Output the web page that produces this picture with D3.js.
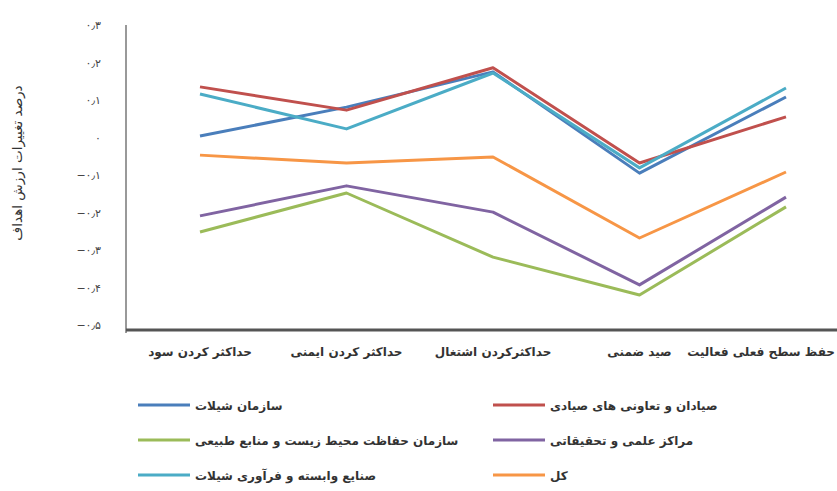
<!DOCTYPE html>
<html><head><meta charset="utf-8">
<script src="https://cdn.jsdelivr.net/npm/d3@7"></script>
<style>body{margin:0;background:#fff}svg{display:block}text{font-family:"DejaVu Sans",sans-serif}</style>
</head><body><svg id="c" width="837" height="491"></svg>
<script>
const categories = ["حداکثر کردن سود","حداکثر کردن ایمنی","حداکثرکردن اشتغال","صید ضمنی","حفظ سطح فعلی فعالیت"];
const seriesNames = ["سازمان شیلات","صیادان و تعاونی های صیادی","سازمان حفاظت محیط زیست و منابع طبیعی","مراکز علمی و تحقیقاتی","صنایع وابسته و فرآوری شیلات","کل"];
const blueVals   = [0.004, 0.081, 0.175, -0.095, 0.108];
const redVals    = [0.135, 0.073, 0.186, -0.068, 0.055];
const greenVals  = [-0.252, -0.148, -0.319, -0.420, -0.185];
const purpleVals = [-0.209, -0.129, -0.199, -0.393, -0.159];
const cyanVals   = [0.116, 0.023, 0.172, -0.081, 0.132];
const orangeVals = [-0.047, -0.068, -0.052, -0.268, -0.092];
const yTicks = [0.3,0.2,0.1,0,-0.1,-0.2,-0.3,-0.4,-0.5];
const yTickLabels = ["۰٫۳","۰٫۲","۰٫۱","۰","−۰٫۱","−۰٫۲","−۰٫۳","−۰٫۴","−۰٫۵"];
const yTitle = "درصد تغییرات ارزش اهداف";

const colors = ["#4a7ebb","#c0504d","#9bbb59","#8064a2","#4bacc6","#f79646"];
const series = [blueVals, redVals, greenVals, purpleVals, cyanVals, orangeVals].map((v,i)=>({name:seriesNames[i], values:v, color:colors[i]}));

const svg = d3.select("#c");
const x = d3.scalePoint().domain(categories).range([200, 786]);
const y = d3.scaleLinear().domain([-0.5, 0.3]).range([325, 25]);

// axes lines
svg.append("line").attr("x1",126).attr("x2",126).attr("y1",25).attr("y2",333).attr("stroke","#777").attr("stroke-width",1.5);
svg.append("line").attr("x1",126).attr("x2",837).attr("y1",330).attr("y2",330).attr("stroke","#555").attr("stroke-width",3);

// y tick labels
const yAxis = d3.axisLeft(y).tickValues(yTicks).tickSize(0).tickPadding(0).tickFormat((d,i)=>yTickLabels[i]);
const ga = svg.append("g").attr("transform","translate(101,0)").call(yAxis);
ga.select(".domain").remove();
ga.selectAll("text").attr("font-size",11).attr("fill","#444").style("font-family","DejaVu Sans");

// x labels
const nCat = categories.length;
svg.append("g").selectAll("text").data(categories).join("text")
  .attr("x",(d,i)=>i===nCat-1?835:x(d)).attr("y",356)
  .attr("text-anchor",(d,i)=>i===nCat-1?"end":"middle")
  .attr("font-size",12).attr("font-weight","bold").attr("fill","#333").text(d=>d);

// y title
svg.append("text").attr("transform","translate(22,163) rotate(-90)").attr("text-anchor","middle")
  .attr("font-size",13.5).attr("fill","#333").text(yTitle);

// lines
const line = d3.line().x((d,i)=>x(categories[i])).y(d=>y(d));
svg.append("g").selectAll("path").data(series).join("path")
  .attr("d",d=>line(d.values)).attr("fill","none").attr("stroke",d=>d.color)
  .attr("stroke-width",3).attr("stroke-linejoin","round");

// legend
const lg = svg.append("g").selectAll("g").data(series).join("g")
  .attr("transform",(d,i)=>`translate(${i%2===0?138:493},${405+Math.floor(i/2)*35})`);
lg.append("line").attr("x1",0).attr("x2",52).attr("y1",0).attr("y2",0).attr("stroke",d=>d.color).attr("stroke-width",3);
lg.append("text").attr("x",57).attr("y",4.5).attr("font-size",12).attr("font-weight","bold").attr("fill","#333").text(d=>d.name);
</script></body></html>
